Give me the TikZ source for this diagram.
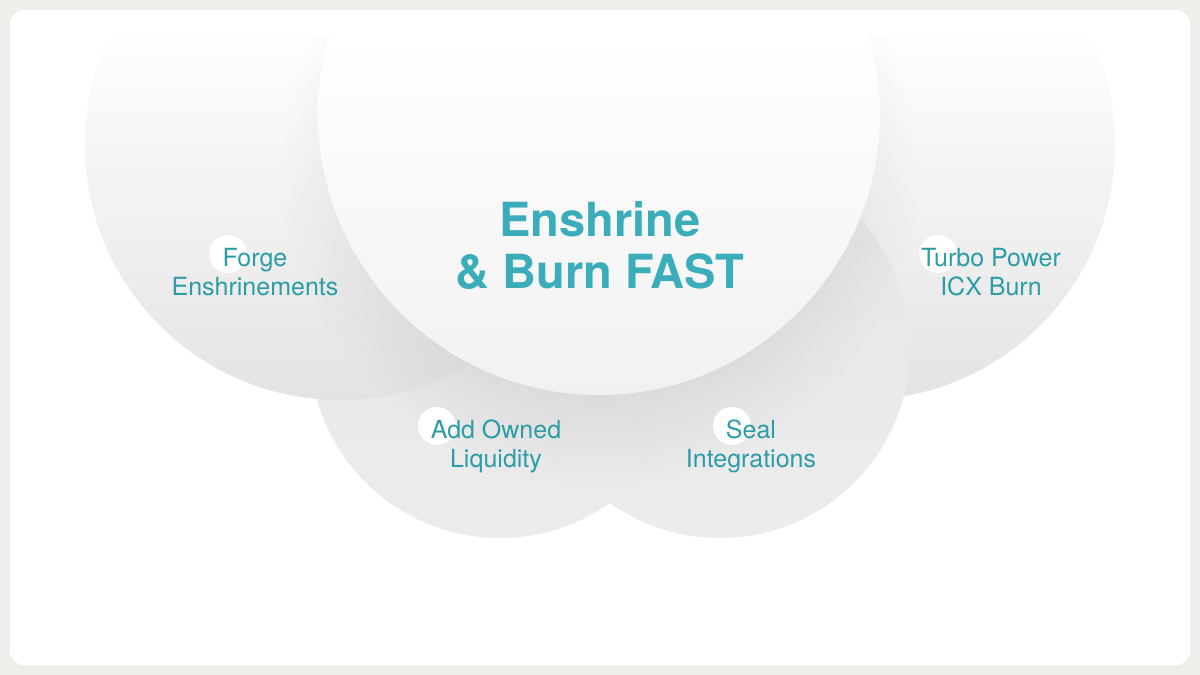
\documentclass[tikz,border=0pt]{standalone}
\usepackage{fontspec}
\setmainfont{TeX Gyre Heros}
\definecolor{bgout}{HTML}{F0EEEB}
\definecolor{labteal}{HTML}{2C9DA6}
\definecolor{titleteal}{HTML}{3BADBA}
\definecolor{sideg}{HTML}{E3E3E3}
\definecolor{lowtop}{HTML}{E6E6E6}
\definecolor{lowbot}{HTML}{ECECEC}
\definecolor{centg}{HTML}{F1F1F1}
\definecolor{shg}{HTML}{F2F2F2}
\pgfdeclareradialshading{shadowrad}{\pgfpoint{0bp}{0bp}}{color(0bp)=(black); color(10.6bp)=(black); color(15.1bp)=(shg); color(50bp)=(shg)}
\begin{document}
\begin{tikzpicture}[x=1pt,y=-1pt,
  lab/.style={font=\fontsize{25}{29}\selectfont, text=labteal, align=center, inner sep=0pt, anchor=base},
  ttl/.style={font=\fontsize{47}{52}\selectfont\bfseries, text=titleteal, align=center, inner sep=0pt, anchor=base},
  dot/.style={fill=white}]
\useasboundingbox (0,0) rectangle (1200,675);
\fill[bgout] (0,0) rectangle (1200,675);
\fill[white, rounded corners=14pt] (10,10) rectangle (1190,665);
\coordinate (cL) at (340,145);
\coordinate (cR) at (860,145);
\coordinate (cLL) at (500,348);
\coordinate (cLR) at (720,348);
\coordinate (cC) at (599,114);
\coordinate (cS) at (599,170);
\begin{scope}
  \clip (10,35) rectangle (1190,665);
  % right circle
  \begin{scope}
    \clip (cR) circle (255pt);
    \shade[top color=white, bottom color=sideg] (600,35) rectangle (1120,400);
  \end{scope}
  % lower right circle
  \begin{scope}
    \clip (cLR) circle (190pt);
    \shade[top color=lowtop, bottom color=lowbot] (520,158) rectangle (915,540);
  \end{scope}
  % lower left circle
  \begin{scope}
    \clip (cLL) circle (190pt);
    \shade[top color=lowtop, bottom color=lowbot] (305,158) rectangle (695,540);
  \end{scope}
  % left circle
  \begin{scope}
    \clip (cL) circle (255pt);
    \shade[top color=white, bottom color=sideg] (80,35) rectangle (600,400);
  \end{scope}
  % soft shadow of the central circle on the others
  \begin{scope}
    \clip (cL) circle (255pt) (cR) circle (255pt) (cLL) circle (190pt) (cLR) circle (190pt);
    \shade[shading=shadowrad, opacity=0.06] (cS) circle (530pt);
  \end{scope}
  % central circle
  \begin{scope}
    \clip (cC) circle (281pt);
    \shade[top color=white, bottom color=centg] (315,35) rectangle (885,396);
  \end{scope}
\end{scope}
% small white dots
\fill[dot] (228,254) circle (19pt);
\fill[dot] (938,254) circle (19pt);
\fill[dot] (437,426) circle (19pt);
\fill[dot] (732,426) circle (19pt);
% labels
\node[ttl] (title1) at (600,236) {Enshrine};
\node[ttl] (title2) at (600,288) {\& Burn FAST};
\node[lab] (forge) at (255,295) {Forge\\Enshrinements};
\node[lab] (turbo) at (991,295) {Turbo Power\\ICX Burn};
\node[lab] (addowned) at (496,467) {Add Owned\\Liquidity};
\node[lab] (seal) at (751,467) {Seal\\Integrations};
\end{tikzpicture}
\end{document}
